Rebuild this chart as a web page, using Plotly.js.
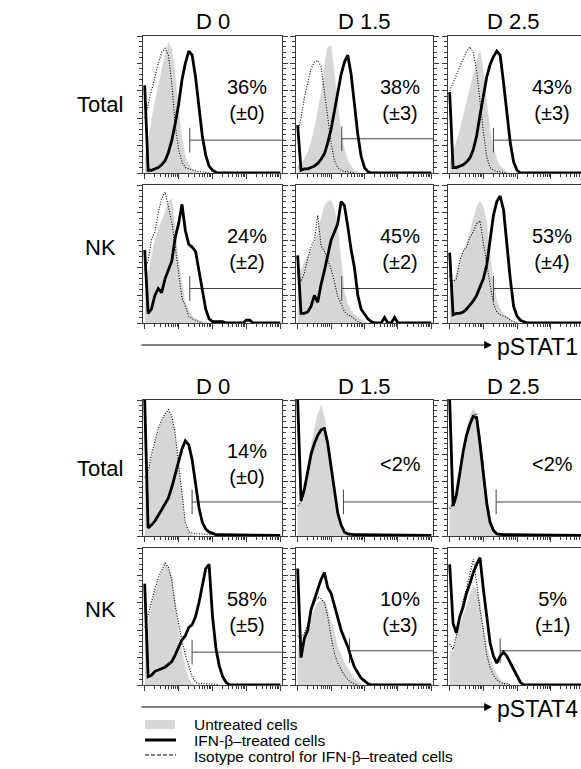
<!DOCTYPE html>
<html><head><meta charset="utf-8">
<script src="https://cdn.plot.ly/plotly-3.0.1.min.js"></script>
<style>html,body{margin:0;padding:0;overflow:hidden;background:#fff}#chart{width:590px;height:769px}</style>
</head><body><div id="chart"></div>
<script>
// Fluorescence channels (log-spaced bins)
const bins = [1,1.26,1.58,2,2.51,3.16,3.98,5.01,6.31,7.94,10,12.6,15.8,20,25.1,31.6,39.8,50.1,63.1,79.4,100,126,158,200,251,316,398,501,631,794,1000,1259,1585,1995,2512,3162,3981,5012,6310,7943,10000];

const dayLabels = ['D 0','D 1.5','D 2.5'];
const rowLabels = ['Total','NK'];
const markerLabels = ['pSTAT1','pSTAT4'];
const pctLabels = ['36%','38%','43%','24%','45%','53%','14%','&lt;2%','&lt;2%','58%','10%','5%'];
const sdLabels  = ['(±0)','(±3)','(±3)','(±2)','(±2)','(±4)','(±0)','','','(±5)','(±3)','(±1)'];
const gateX = [21.4,20.9,20,21.4,20.9,20,25,23.4,24,25,35.5,31.6];
const gateY = [24,25,24,25,25,25,25,25,25,24,25,25];
const legendLabels = ['Untreated cells','IFN-β–treated cells','Isotype control for IFN-β–treated cells'];

// pSTAT1 - Total
const s1TotalD0Untreated = [10,25,38,52,63,75,86,95,90,72,45,25,12,6,3,1,0];
const s1TotalD0Isotype   = [40,50,62,72,80,88,91,86,65,35,17,8,4,3,2,1.5,1,1,0.5,0];
const s1TotalD0Treated   = [64,2,2,3,4,6,9,15,24,36,50,68,80,89,86,70,47,27,13,5,2,0.5,0,0,0,0,0,0,0,0,0,0,0,0,0,0,0,0,0,0,0];
const s1TotalD15Untreated = [5,7,10,15,22,32,45,58,78,92,93,72,47,29,17,9,5,2,1,0];
const s1TotalD15Isotype   = [29,40,55,67,76,81,82,78,60,40,22,9,4,2,1,1,0.5,0];
const s1TotalD15Treated   = [35,2,3,3,4,5,7,10,14,22,32,46,60,72,81,86,72,50,28,12,4,1,0,0,0,0,0,0,0,0,0,0,0,0,0,0,0,0,0,0,0];
const s1TotalD25Untreated = [8,15,23,31,41,51,61,70,82,89,75,51,31,19,10,5,3,1,0];
const s1TotalD25Isotype   = [60,66,72,78,84,89,92,88,75,52,30,12,4,2,1,1,0.5,0];
const s1TotalD25Treated   = [59,4,4,5,6,8,11,17,27,42,56,70,79,85,89,86,66,42,22,8,2,0,0,0,0,0,0,0,0,0,0,0,0,0,0,0,0,0,0,0,0];
// pSTAT1 - NK
const s1NkD0Untreated = [20,36,48,60,68,74,80,88,90,68,45,28,16,9,5,3,2,1,1,0];
const s1NkD0Isotype   = [38,45,60,66,80,90,95,84,73,55,35,18,12,5,3,2,1,0];
const s1NkD0Treated   = [53,7,10,20,25,22,32,38,45,62,72,86,67,57,55,52,39,24,10,3,1,1,1,1,0,0,0,0,0,0,2,2,0,0,0,0,0,0,0,0,0];
const s1NkD15Untreated = [40,39,44,48,53,58,66,75,85,88,89,82,70,45,22,14,9,6,4,2,1,0];
const s1NkD15Isotype   = [40,30,36,47,55,60,78,56,52,45,39,30,19,14,8,6,5,3,1,0];
const s1NkD15Treated   = [49,7,7,8,12,20,15,28,38,50,60,66,72,88,85,70,53,40,20,10,6,3,1,0,0,0,4,0,0,4,0,0,0,0,0,0,0,0,0,0,0];
const s1NkD25Untreated = [39,29,36,43,50,58,66,75,84,88,84,72,50,28,16,10,7,5,3,1,0];
const s1NkD25Isotype   = [34,30,32,45,52,55,62,66,72,74,58,42,28,14,8,6,5,4,2,1,0];
const s1NkD25Treated   = [51,6,7,7,8,10,13,16,20,26,32,42,58,78,88,92,82,55,32,12,5,2,1,0,0,0,0,0,0,0,0,0,0,0,0,0,0,0,0,0,0];
// pSTAT4 - Total
const s4TotalD0Untreated = [40,45,58,68,78,84,89,92,87,73,51,26,9,3,1,0];
const s4TotalD0Isotype   = [43,47,60,70,79,85,90,93,88,75,52,28,10,3,2,1.5,1.5,1.5,1.5,1.5,1.5,1,0];
const s4TotalD0Treated   = [100,6,8,11,15,19,23,28,36,46,56,64,70,67,56,38,21,10,5,3,2,1,1,1,1,1,1,1,1,1,1,0.5,0.5,0.5,0.5,0.5,0.5,0.5,0.5,0.5,0.5];
const s4TotalD15Untreated = [20,29,39,52,66,79,89,96,88,72,47,27,12,5,2,1,0];
const s4TotalD15Isotype   = [22,25,32,45,58,67,74,78,80,71,53,33,18,8,3,1,0.5,0];
const s4TotalD15Treated   = [100,26,34,48,60,68,74,78,79,68,50,31,17,8,3,1.5,1,1,1,1,1,1,1,1,1,1,1,1,1,1,1,1,1,1,1,1,0.5,0.5,0.5,0.5,0.5];
const s4TotalD25Untreated = [22,26,38,52,66,78,88,94,89,73,51,29,14,6,2,1,0];
const s4TotalD25Isotype   = [20,24,32,48,62,75,84,89,90,74,50,28,12,5,2,1,0];
const s4TotalD25Treated   = [100,22,30,47,62,74,82,88,87,68,45,24,10,4,1.5,1,1,1,1,1,1,1,1,1,1,1,1,1,1,1,1,1,1,1,1,1,0.5,0.5,0.5,0.5,0.5];
// pSTAT4 - NK
const s4NkD0Untreated = [35,45,58,68,75,82,88,86,80,62,40,24,12,4,1,0];
const s4NkD0Isotype   = [42,52,62,70,78,84,89,86,76,58,44,32,22,13,6,2,1,1,1,1,1,0.5,0];
const s4NkD0Treated   = [74,6,7,10,11,12,13,15,17,22,27,33,36,42,44,50,60,72,85,88,50,27,14,6,2,0,0,0,0,0,0,0,0,0,0,0,0,0,0,0,0];
const s4NkD15Untreated = [30,24,30,38,48,56,60,62,62,55,46,38,28,22,16,12,8,5,3,1,0];
const s4NkD15Isotype   = [36,34,38,44,54,60,64,63,60,50,35,23,16,11,7,4,2,1,0];
const s4NkD15Treated   = [85,20,34,40,55,62,69,77,82,71,67,58,48,40,34,28,20,13,9,5,3,1,0,0,0,0,0,0,0,0,0,0,0,0,0,0,0,0,0,0,0];
const s4NkD25Untreated = [25,24,36,43,50,58,66,72,70,60,42,28,20,12,8,4,2,1,0];
const s4NkD25Isotype   = [30,26,36,50,62,70,80,92,75,55,40,22,13,7,4,2,1,1,0];
const s4NkD25Treated   = [88,45,38,50,57,67,74,82,88,93,70,48,31,21,16,21,24,21,16,12,7,2,0,0,0,0,0,0,0,0,0,0,0,0,0,0,0,0,0,0,0];

const untreatedSets = [s1TotalD0Untreated,s1TotalD15Untreated,s1TotalD25Untreated,s1NkD0Untreated,s1NkD15Untreated,s1NkD25Untreated,s4TotalD0Untreated,s4TotalD15Untreated,s4TotalD25Untreated,s4NkD0Untreated,s4NkD15Untreated,s4NkD25Untreated];
const isotypeSets = [s1TotalD0Isotype,s1TotalD15Isotype,s1TotalD25Isotype,s1NkD0Isotype,s1NkD15Isotype,s1NkD25Isotype,s4TotalD0Isotype,s4TotalD15Isotype,s4TotalD25Isotype,s4NkD0Isotype,s4NkD15Isotype,s4NkD25Isotype];
const treatedSets = [s1TotalD0Treated,s1TotalD15Treated,s1TotalD25Treated,s1NkD0Treated,s1NkD15Treated,s1NkD25Treated,s4TotalD0Treated,s4TotalD15Treated,s4TotalD25Treated,s4NkD0Treated,s4NkD15Treated,s4NkD25Treated];

// ---------- layout geometry ----------
const W = 590, H = 769;
const colL = [143, 296, 448], colR = [282, 433, 586];
const rowT = [36, 185, 400, 548], rowB = [173, 323, 536, 685];
const FONT = 'Liberation Sans, Arial, Helvetica, sans-serif';
const GRAY = '#d6d6d6', AXC = '#3a3a3a';
const px = v => v / W, py = v => 1 - v / H;

const minorX = [];
[1, 10, 100, 1000].forEach(d => { for (let k = 2; k <= 9; k++) minorX.push(k * d); });

const traces = [];
const layout = {
  width: W, height: H, margin: {l: 0, r: 0, t: 0, b: 0},
  paper_bgcolor: '#fff', plot_bgcolor: '#fff', showlegend: false,
  font: {family: FONT, color: '#000'},
  annotations: [], shapes: []
};

for (let i = 0; i < 12; i++) {
  const r = Math.floor(i / 3), c = i % 3;
  const sfx = i === 0 ? '' : String(i + 1);
  layout['xaxis' + sfx] = {
    domain: [px(colL[c]), Math.min(1, px(colR[c]))], anchor: 'y' + sfx,
    type: 'log', range: [-0.05, 4.05], fixedrange: true,
    showline: true, mirror: true, linecolor: AXC, linewidth: 1,
    ticks: 'outside', ticklen: 5, tickwidth: 1, tickcolor: AXC,
    tickvals: [1, 10, 100, 1000, 10000], showticklabels: false,
    showgrid: false, zeroline: false,
    minor: {tickvals: minorX, ticks: 'outside', ticklen: 3, tickwidth: 1, tickcolor: AXC, showgrid: false}
  };
  layout['yaxis' + sfx] = {
    domain: [py(rowB[r]), py(rowT[r])], anchor: 'x' + sfx,
    range: [0, 100], fixedrange: true,
    showline: true, mirror: 'ticks', linecolor: AXC, linewidth: 1,
    ticks: 'outside', ticklen: 5, tickwidth: 1, tickcolor: AXC,
    tick0: 0, dtick: 20, showticklabels: false, showgrid: false, zeroline: false,
    minor: {tick0: 0, dtick: 4, ticks: 'outside', ticklen: 3, tickwidth: 1, tickcolor: AXC, showgrid: false}
  };
  const xa = 'x' + sfx, ya = 'y' + sfx;
  traces.push({x: bins, y: untreatedSets[i], xaxis: xa, yaxis: ya, type: 'scatter', mode: 'lines',
    fill: 'tozeroy', fillcolor: GRAY, line: {color: GRAY, width: 0.5}, hoverinfo: 'skip'});
  traces.push({x: [gateX[i], gateX[i], null, gateX[i], 50000], y: [gateY[i] - 9, gateY[i] + 9, null, gateY[i], gateY[i]],
    xaxis: xa, yaxis: ya, type: 'scatter', mode: 'lines', line: {color: '#444', width: 1}, hoverinfo: 'skip'});
  traces.push({x: bins, y: isotypeSets[i], xaxis: xa, yaxis: ya, type: 'scatter', mode: 'lines',
    line: {color: '#000', width: 1.1, dash: '1px,1.6px'}, hoverinfo: 'skip'});
  traces.push({x: bins, y: treatedSets[i], xaxis: xa, yaxis: ya, type: 'scatter', mode: 'lines',
    line: {color: '#000', width: 2.8}, hoverinfo: 'skip'});

  // percent annotation
  const txt = sdLabels[i] ? pctLabels[i] + '<br>' + sdLabels[i] : pctLabels[i];
  layout.annotations.push({xref: 'paper', yref: 'paper', x: px(colL[c] + 104), y: py(rowT[r] + 64),
    xanchor: 'center', yanchor: 'middle', text: txt, showarrow: false, font: {size: 20, family: FONT, color: '#000'}});
}

// column titles
[0, 2].forEach(r => {
  dayLabels.forEach((d, c) => {
    layout.annotations.push({xref: 'paper', yref: 'paper', x: px((colL[c] + Math.min(colR[c], 582)) / 2 + (c === 2 ? -2 : 0)), y: py(rowT[r] - 14),
      xanchor: 'center', yanchor: 'middle', text: d, showarrow: false, font: {size: 22, family: FONT, color: '#000'}});
  });
});
// row labels
[0, 1, 2, 3].forEach(r => {
  const lab = rowLabels[r % 2];
  const yc = (rowT[r] + rowB[r]) / 2 + (r % 2 === 1 ? -7 : 0);
  layout.annotations.push({xref: 'paper', yref: 'paper', x: px(100), y: py(yc), xanchor: 'center', yanchor: 'middle',
    text: lab, showarrow: false, font: {size: 22, family: FONT, color: '#000'}});
});
// arrows with marker labels
[1, 3].forEach((r, k) => {
  const ay = rowB[r] + 22;
  layout.annotations.push({xref: 'paper', yref: 'paper', x: px(492), y: py(ay), ax: -352, ay: 0,
    axref: 'pixel', ayref: 'pixel', text: '', showarrow: true, arrowhead: 2, arrowsize: 1.3, arrowwidth: 1.2,
    arrowcolor: '#000', standoff: 0, startstandoff: 0});
  layout.annotations.push({xref: 'paper', yref: 'paper', x: px(495), y: py(ay + 2), xanchor: 'left', yanchor: 'middle',
    text: markerLabels[k], showarrow: false, font: {size: 23, family: FONT, color: '#000'}});
});
// legend
layout.shapes.push({type: 'rect', xref: 'paper', yref: 'paper', x0: px(145), x1: px(175), y0: py(729), y1: py(720),
  fillcolor: GRAY, line: {width: 0}});
layout.shapes.push({type: 'line', xref: 'paper', yref: 'paper', x0: px(145), x1: px(176), y0: py(740), y1: py(740),
  line: {color: '#000', width: 3}});
layout.shapes.push({type: 'line', xref: 'paper', yref: 'paper', x0: px(145), x1: px(176), y0: py(755), y1: py(755),
  line: {color: '#000', width: 1, dash: '4px,2px'}});
legendLabels.forEach((t, k) => {
  layout.annotations.push({xref: 'paper', yref: 'paper', x: px(192), y: py(724 + k * 16), xanchor: 'left', yanchor: 'middle',
    text: t, showarrow: false, font: {size: 15.5, family: FONT, color: '#000'}});
});

Plotly.newPlot('chart', traces, layout, {staticPlot: true, displayModeBar: false});
</script>
</body></html>
